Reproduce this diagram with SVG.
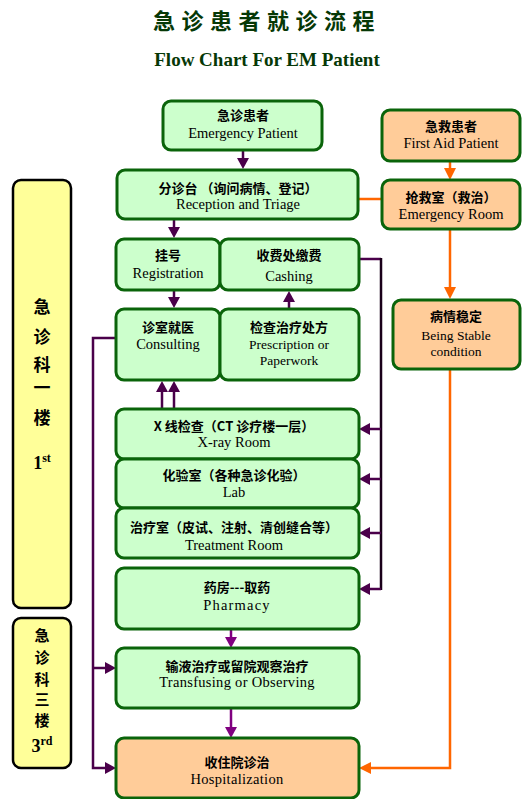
<svg xmlns="http://www.w3.org/2000/svg" width="532" height="799" viewBox="0 0 532 799">
<style>
.g{fill:#ccffcc;stroke:#0a640a;stroke-width:3}
.o{fill:#ffcc99;stroke:#0a640a;stroke-width:3}
.y{fill:#ffff99;stroke:#000;stroke-width:2.5}
.cn{font-family:"Noto Sans CJK SC",sans-serif;font-size:13px;font-weight:bold;fill:#000;text-anchor:middle}
.en{font-family:"Liberation Serif",serif;font-size:14.5px;fill:#000;text-anchor:middle}
.en2{font-family:"Liberation Serif",serif;font-size:13.5px;fill:#000;text-anchor:middle}
.side{font-family:"Noto Sans CJK SC",sans-serif;font-size:17px;font-weight:bold;fill:#000;text-anchor:middle}
.side3{font-family:"Noto Sans CJK SC",sans-serif;font-size:15px;font-weight:bold;fill:#000;text-anchor:middle}
.num{font-family:"Liberation Serif",serif;font-size:18px;font-weight:bold;fill:#000;text-anchor:middle}
.p{stroke:#4a004a;stroke-width:2.5;fill:none}
.pb{stroke:#800080;stroke-width:2.5;fill:none}
.k{stroke:#1a001a;stroke-width:2.5;fill:none}
.or{stroke:#ff6600;stroke-width:2.5;fill:none}
.pa{fill:#4a004a}
.pba{fill:#800080}
.oa{fill:#ff6600}
</style>
<rect width="532" height="799" fill="#fff"/>
<g id="title">
<text x="267" y="29" font-family="Noto Sans CJK SC,sans-serif" font-size="22" font-weight="bold" fill="#063806" text-anchor="middle" letter-spacing="6.5">急诊患者就诊流程</text>
<text x="267" y="66" font-family="Liberation Serif,serif" font-size="19" font-weight="bold" fill="#063806" text-anchor="middle">Flow Chart For EM Patient</text>
</g>
<g id="connectors">
<line class="p" x1="243" y1="151" x2="243" y2="160"/>
<polygon class="pa" points="237,158 249,158 243,169"/>
<line class="p" x1="174" y1="219" x2="174" y2="229"/>
<polygon class="pa" points="168,227 180,227 174,238"/>
<line class="p" x1="174" y1="290" x2="174" y2="299"/>
<polygon class="pa" points="168,297 180,297 174,308"/>
<line class="p" x1="289" y1="309" x2="289" y2="300"/>
<polygon class="pa" points="283,302 295,302 289,291"/>
<line class="p" x1="162" y1="409" x2="162" y2="390"/>
<polygon class="pa" points="156,392 168,392 162,381"/>
<line class="p" x1="174" y1="409" x2="174" y2="390"/>
<polygon class="pa" points="168,392 180,392 174,381"/>
<polyline class="p" points="359,259 381,259"/>
<line class="k" x1="381" y1="258" x2="381" y2="590"/>
<line class="p" x1="381" y1="429" x2="368" y2="429"/>
<polygon class="pa" points="370,423 370,435 359,429"/>
<line class="p" x1="381" y1="479" x2="368" y2="479"/>
<polygon class="pa" points="370,473 370,485 359,479"/>
<line class="p" x1="381" y1="533" x2="368" y2="533"/>
<polygon class="pa" points="370,527 370,539 359,533"/>
<line class="p" x1="381" y1="589" x2="368" y2="589"/>
<polygon class="pa" points="370,583 370,595 359,589"/>
<polyline class="p" points="116,338 93,338 93,768 106,768"/>
<polygon class="pa" points="105,762 105,774 116,768"/>
<line class="p" x1="93" y1="668" x2="106" y2="668"/>
<polygon class="pa" points="105,662 105,674 116,668"/>
<line class="pb" x1="231" y1="629" x2="231" y2="638"/>
<polygon class="pba" points="225,637 237,637 231,648"/>
<line class="pb" x1="231" y1="708" x2="231" y2="728"/>
<polygon class="pba" points="225,727 237,727 231,738"/>
<line class="or" x1="359" y1="199" x2="382" y2="199"/>
<line class="or" x1="450" y1="161" x2="450" y2="170"/>
<polygon class="oa" points="444,168 456,168 450,180"/>
<line class="or" x1="450" y1="229" x2="450" y2="288"/>
<polygon class="oa" points="444,287 456,287 450,299"/>
<polyline class="or" points="450,369 450,768 370,768"/>
<polygon class="oa" points="371,762 371,774 359,768"/>
</g>
<g id="floor1">
<rect class="y" x="13" y="180" width="58" height="428" rx="8"/>
<text class="side" x="42" y="313">急</text>
<text class="side" x="42" y="343">诊</text>
<text class="side" x="42" y="371">科</text>
<text class="side" x="42" y="394">一</text>
<text class="side" x="42" y="424">楼</text>
<text class="num" x="42" y="469">1<tspan font-size="12" dy="-7">st</tspan></text>
</g>
<g id="floor3">
<rect class="y" x="13" y="618" width="58" height="150" rx="8"/>
<text class="side3" x="42" y="641">急</text>
<text class="side3" x="42" y="663">诊</text>
<text class="side3" x="42" y="685">科</text>
<text class="side3" x="42" y="705">三</text>
<text class="side3" x="42" y="726">楼</text>
<text class="num" x="42" y="752">3<tspan font-size="12" dy="-7">rd</tspan></text>
</g>
<g id="emergency-patient">
<rect class="g" x="163" y="101" width="159" height="49" rx="8"/>
<text class="cn" x="243" y="120">急诊患者</text>
<text class="en" x="243" y="138">Emergency Patient</text>
</g>
<g id="reception">
<rect class="g" x="117" y="170" width="241" height="49" rx="8"/>
<text class="cn" x="238" y="193">分诊台 （询问病情、登记）</text>
<text class="en" x="238" y="209">Reception and Triage</text>
</g>
<g id="first-aid">
<rect class="o" x="382" y="110" width="138" height="51" rx="8"/>
<text class="cn" x="451" y="131">急救患者</text>
<text class="en" x="451" y="148">First Aid Patient</text>
</g>
<g id="emergency-room">
<rect class="o" x="382" y="180" width="138" height="49" rx="8"/>
<text class="cn" x="451" y="202">抢救室（救治）</text>
<text class="en" x="451" y="219">Emergency Room</text>
</g>
<g id="stable">
<rect class="o" x="393" y="300" width="127" height="69" rx="8"/>
<text class="cn" x="456" y="321">病情稳定</text>
<text class="en2" x="456" y="340">Being Stable</text>
<text class="en2" x="456" y="356">condition</text>
</g>
<g id="registration">
<rect class="g" x="116" y="239" width="104" height="51" rx="8"/>
<text class="cn" x="168" y="260">挂号</text>
<text class="en" x="168" y="278">Registration</text>
</g>
<g id="cashing">
<rect class="g" x="220" y="239" width="139" height="51" rx="8"/>
<text class="cn" x="289" y="260">收费处缴费</text>
<text class="en" x="289" y="281">Cashing</text>
</g>
<g id="consulting">
<rect class="g" x="116" y="309" width="104" height="71" rx="8"/>
<text class="cn" x="168" y="332">诊室就医</text>
<text class="en" x="168" y="349">Consulting</text>
</g>
<g id="prescription">
<rect class="g" x="220" y="309" width="139" height="71" rx="8"/>
<text class="cn" x="289" y="332">检查治疗处方</text>
<text class="en2" x="289" y="349">Prescription or</text>
<text class="en2" x="289" y="365">Paperwork</text>
</g>
<g id="xray">
<rect class="g" x="116" y="409" width="243" height="50" rx="8"/>
<text class="cn" x="234" y="431">X 线检查（CT 诊疗楼一层）</text>
<text class="en" x="234" y="447">X-ray Room</text>
</g>
<g id="lab">
<rect class="g" x="116" y="459" width="243" height="49" rx="8"/>
<text class="cn" x="234" y="480">化验室（各种急诊化验）</text>
<text class="en" x="234" y="497">Lab</text>
</g>
<g id="treatment">
<rect class="g" x="116" y="508" width="243" height="50" rx="8"/>
<text class="cn" x="234" y="532">治疗室（皮试、注射、清创缝合等）</text>
<text class="en" x="234" y="550">Treatment Room</text>
</g>
<g id="pharmacy">
<rect class="g" x="116" y="568" width="243" height="61" rx="8"/>
<text class="cn" x="237" y="592">药房---取药</text>
<text class="en" x="237" y="610" letter-spacing="1.2">Pharmacy</text>
</g>
<g id="transfusing">
<rect class="g" x="116" y="648" width="243" height="60" rx="8"/>
<text class="cn" x="237" y="671">输液治疗或留院观察治疗</text>
<text class="en" x="237" y="687" letter-spacing="0.3">Transfusing or Observing</text>
</g>
<g id="hospitalization">
<rect class="o" x="116" y="738" width="243" height="60" rx="8"/>
<text class="cn" x="237" y="767">收住院诊治</text>
<text class="en" x="237" y="784" letter-spacing="0.3">Hospitalization</text>
</g>
</svg>
